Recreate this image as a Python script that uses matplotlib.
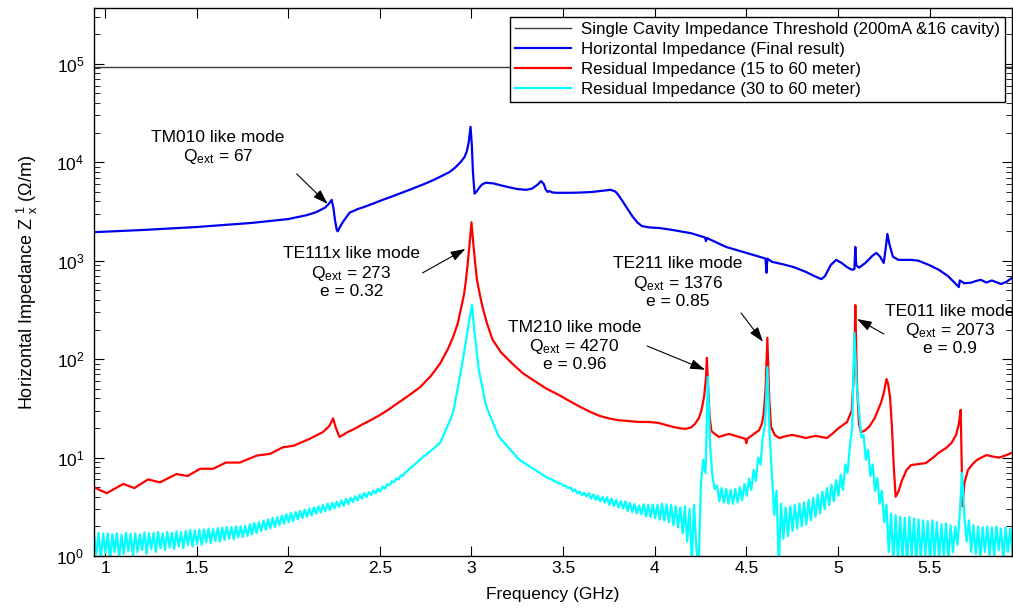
import numpy as np
import matplotlib
matplotlib.use('Agg')
import matplotlib.pyplot as plt
from matplotlib.ticker import LogLocator, NullFormatter

plt.rcParams['font.family'] = ['Liberation Sans', 'DejaVu Sans']
plt.rcParams['mathtext.fontset'] = 'custom'
plt.rcParams['mathtext.rm'] = 'Liberation Sans'
plt.rcParams['mathtext.it'] = 'Liberation Sans:italic'

# ---- data ----
threshold = 9.4e4

blue_f = [0.94, 1.2, 1.5, 1.8, 2.0, 2.1, 2.15, 2.2, 2.22, 2.237, 2.247, 2.255, 2.265, 2.27,
          2.285, 2.30, 2.335, 2.38, 2.42, 2.47, 2.515, 2.56, 2.60, 2.65, 2.70, 2.75, 2.80,
          2.84, 2.88, 2.91, 2.94, 2.962, 2.975, 2.985, 2.995, 3.002, 3.008, 3.017, 3.03,
          3.045, 3.06, 3.08, 3.12, 3.15, 3.2, 3.25, 3.30, 3.33, 3.36, 3.38, 3.395, 3.405,
          3.415, 3.425, 3.44, 3.46, 3.55, 3.62, 3.66, 3.72, 3.76, 3.785, 3.80, 3.82, 3.85,
          3.88, 3.905, 3.93, 3.97, 4.025, 4.1, 4.2, 4.275, 4.28, 4.285, 4.39, 4.57, 4.605,
          4.61, 4.615, 4.64, 4.70, 4.76, 4.825, 4.87, 4.91, 4.93, 4.96, 4.99, 5.02, 5.05,
          5.075, 5.09, 5.095, 5.10, 5.115, 5.15, 5.19, 5.21, 5.23, 5.25, 5.26, 5.27, 5.28,
          5.30, 5.33, 5.40, 5.44, 5.50, 5.55, 5.60, 5.66, 5.665, 5.69, 5.73, 5.75, 5.78,
          5.81, 5.84, 5.87, 5.89, 5.92, 5.95]
blue_z = [1950, 2050, 2200, 2420, 2650, 2900, 3100, 3450, 3750, 4150, 3400, 2600, 2050, 1990,
          2250, 2500, 3080, 3350, 3550, 3850, 4150, 4450, 4750, 5150, 5600, 6100, 6700,
          7300, 7950, 8800, 10000, 11300, 13000, 16000, 22900, 15000, 8000, 4800, 5100,
          5600, 6000, 6200, 6100, 5900, 5600, 5350, 5250, 5400, 5900, 6450, 6000, 5300,
          5000, 5100, 4950, 4900, 4900, 4950, 5000, 5150, 5250, 5050, 4700, 4150, 3400,
          2800, 2450, 2250, 2180, 2150, 2050, 1900, 1720, 1580, 1700, 1380, 1100, 1050,
          755, 1050, 975, 920, 860, 770, 700, 650, 700, 900, 1020, 950, 860,
          810, 820, 1380, 900, 850, 950, 1130, 1200, 1100, 950, 1300, 1870, 1500,
          1100, 1020, 1020, 1000, 900, 810, 700, 540, 630, 590, 600, 620, 640,
          600, 630, 600, 580, 610, 670]

red_f = [0.94, 0.98, 1.01, 1.05, 1.10, 1.16, 1.235, 1.30, 1.39, 1.45, 1.52, 1.59, 1.66, 1.735,
         1.83, 1.90, 1.97, 2.03, 2.12, 2.19, 2.225, 2.245, 2.26, 2.28, 2.325, 2.36, 2.40, 2.45,
         2.50, 2.55, 2.61, 2.66, 2.72, 2.78, 2.83, 2.87, 2.90, 2.925, 2.945, 2.96, 2.97, 2.98,
         2.99, 3.0, 3.01, 3.02, 3.03, 3.045, 3.06, 3.085, 3.115, 3.16, 3.22, 3.28, 3.35, 3.41,
         3.48, 3.53, 3.59, 3.65, 3.70, 3.75, 3.80, 3.86, 3.915, 3.97, 4.02, 4.06, 4.10, 4.14,
         4.17, 4.20, 4.22, 4.24, 4.255, 4.27, 4.28, 4.285, 4.29, 4.30, 4.31, 4.35, 4.405, 4.46,
         4.495, 4.50, 4.505, 4.57, 4.585, 4.595, 4.605, 4.61, 4.615, 4.62, 4.625, 4.635, 4.655,
         4.68, 4.715, 4.75, 4.79, 4.825, 4.855, 4.88, 4.91, 4.94, 4.97, 5.005, 5.05, 5.075,
         5.085, 5.09, 5.095, 5.10, 5.105, 5.115, 5.125, 5.15, 5.17, 5.2, 5.235, 5.25, 5.265,
         5.275, 5.285, 5.295, 5.305, 5.315, 5.33, 5.35, 5.375, 5.40, 5.44, 5.48, 5.52, 5.55,
         5.59, 5.62, 5.645, 5.66, 5.67, 5.675, 5.68, 5.69, 5.71, 5.74, 5.76, 5.81, 5.85, 5.88,
         5.92, 5.95]
red_z = [5.0, 4.6, 4.35, 4.8, 5.4, 4.9, 6.0, 5.6, 6.8, 6.5, 7.7, 7.7, 8.9, 8.9,
         10.5, 10.9, 12.7, 13.2, 15.6, 18.2, 21, 25, 20, 16.2, 18.2, 19.5, 21.5, 24,
         27, 31, 37, 43, 52, 68, 91, 125, 168, 230, 340, 460, 640, 950,
         1500, 2460, 1500, 950, 640, 460, 340, 230, 158, 118, 91, 72, 59, 50,
         43, 38, 33, 29, 26.5, 25, 24, 23.5, 23, 23, 22.5, 21.5, 20.5, 19.8,
         19.6, 20.3, 22, 25, 30, 42, 65, 103, 60, 26, 18.5, 16.2, 17.4, 16.2,
         15.5, 14, 15.5, 19, 22, 28, 50, 90, 165, 80, 40, 20.5, 17,
         15.8, 16.5, 17, 16.4, 15.8, 16.3, 16.6, 16.2, 15.8, 17.5, 20, 23, 30,
         60, 120, 355, 120, 50, 22, 18, 19, 20.5, 25, 36, 45, 63,
         55, 40, 20, 8, 4.0, 4.5, 5.9, 7.5, 8.4, 8.6, 8.8, 10, 11.2,
         12.5, 14.1, 17, 22, 30.5, 10, 3.2, 5.5, 7.5, 8.8, 9.5, 10.6, 10.2, 10.0,
         10.6, 11.2]

# cyan trace sampled every 0.0125 GHz from 0.94 GHz, one row per 0.1 GHz
cyan_z = [
    1.65, 1.05, 1.72, 0.92, 1.68, 1.08, 1.70, 0.88,
    1.66, 1.10, 1.70, 0.95, 1.64, 1.05, 1.72, 1.12,
    1.68, 1.00, 1.70, 1.10, 1.66, 1.15, 1.74, 1.05,
    1.70, 1.18, 1.72, 1.10, 1.75, 1.20, 1.70, 1.15,
    1.76, 1.22, 1.72, 1.18, 1.78, 1.25, 1.75, 1.20,
    1.80, 1.30, 1.84, 1.25, 1.82, 1.32, 1.86, 1.30,
    1.86, 1.38, 1.90, 1.35, 1.88, 1.42, 1.92, 1.40,
    1.94, 1.46, 1.98, 1.50, 1.96, 1.48, 2.00, 1.55,
    2.00, 1.56, 2.03, 1.60, 2.10, 1.66, 2.17, 1.71,
    2.21, 1.79, 2.29, 1.85, 2.36, 1.91, 2.44, 1.97,
    2.49, 2.06, 2.58, 2.13, 2.66, 2.20, 2.75, 2.26,
    2.79, 2.36, 2.88, 2.43, 2.96, 2.50, 3.05, 2.58,
    3.11, 2.69, 3.20, 2.77, 3.30, 2.85, 3.40, 2.93,
    3.46, 3.05, 3.56, 3.15, 3.67, 3.24, 3.80, 3.37,
    3.90, 3.54, 4.05, 3.67, 4.20, 3.82, 4.37, 3.96,
    4.46, 4.18, 4.62, 4.34, 4.81, 4.52, 5.08, 4.84,
    5.36, 5.25, 5.74, 5.61, 6.14, 6.01, 6.61, 6.56,
    7.1, 7.4, 7.8, 8.1, 8.5, 8.9, 9.4, 9.8,
    10.3, 10.7, 11.2, 11.7, 12.2, 12.8, 13.4, 14.0,
    15.6, 17.7, 20, 22.6, 25.6, 30, 40, 53,
    72, 98, 133, 186, 263, 355, 200, 124,
    78, 60, 46, 35, 30, 26.3, 23.2, 20.4,
    17.9, 16.0, 15.1, 14.2, 13.4, 12.6, 11.9, 11.2,
    10.5, 9.9, 9.4, 9.1, 8.8, 8.5, 8.2, 7.9,
    7.66, 7.4, 7.14, 6.9, 6.67, 6.44, 6.25, 6.1,
    5.99, 5.72, 5.70, 5.44, 5.42, 5.16, 5.15, 4.90,
    5.00, 4.55, 4.75, 4.33, 4.52, 4.15, 4.39, 4.03,
    4.36, 3.82, 4.23, 3.71, 4.10, 3.60, 3.98, 3.49,
    3.95, 3.31, 3.84, 3.21, 3.72, 3.12, 3.61, 3.03,
    3.59, 2.87, 3.48, 2.79, 3.38, 2.70, 3.27, 2.65,
    3.36, 2.53, 3.31, 2.48, 3.33, 2.42, 3.30, 2.35,
    3.40, 2.30, 3.35, 2.20, 3.30, 2.05, 3.20, 1.95,
    3.10, 1.70, 3.20, 1.40, 3.00, 0.90, 3.30, 1.20,
    0.80, 5.5, 9.5, 7.0, 66, 13, 6.5, 4.8,
    5.2, 3.6, 4.9, 3.5, 4.8, 3.4, 4.7, 3.4,
    4.8, 3.5, 5.0, 3.7, 5.4, 4.1, 6.1, 4.7,
    7.5, 5.8, 10, 8.5, 16, 22, 83, 17,
    6.5, 2.6, 4.6, 0.8, 3.4, 1.5, 3.1, 1.6,
    3.2, 1.8, 3.3, 1.9, 3.4, 2.0, 3.5, 2.1,
    3.7, 2.3, 3.9, 2.5, 4.2, 2.7, 4.5, 3.0,
    4.9, 3.3, 5.3, 3.6, 5.9, 4.1, 6.7, 4.7,
    8.5, 7.0, 13, 20, 185, 55, 30, 16,
    17, 9.5, 12, 6.5, 8.5, 4.6, 6.2, 3.4,
    4.6, 2.2, 3.3, 1.1, 2.7, 0.85, 2.6, 0.9,
    2.5, 0.95, 2.45, 0.8, 2.5, 1.0, 2.4, 0.85,
    2.35, 0.9, 2.3, 1.0, 2.25, 0.85, 2.3, 1.0,
    2.2, 0.95, 2.1, 1.0, 2.15, 0.9, 2.05, 1.1,
    2.0, 1.3, 2.7, 7.0, 2.6, 1.4, 2.3, 1.1,
    2.05, 1.05, 2.0, 0.9, 1.95, 1.1, 2.0, 1.0,
    1.95, 1.0, 2.0, 1.15, 1.9, 0.9, 1.95, 1.1,
    1.9, 1.05,
]
cyan_f = 0.94 + 0.0125 * np.arange(len(cyan_z))

labels = ['Single Cavity Impedance Threshold (200mA &16 cavity)',
          'Horizontal Impedance (Final result)',
          'Residual Impedance (15 to 60 meter)',
          'Residual Impedance (30 to 60 meter)']

# (text, text pos, arrow tail, arrow head) in data coords
notes = [
    ('TM010 like mode\nQ$_{\\mathrm{ext}}$ = 67', (1.616, 14000), (2.046, 7620), (2.215, 3780)),
    ('TE111x like mode\nQ$_{\\mathrm{ext}}$ = 273\ne = 0.32', (2.346, 752), (2.733, 752), (2.967, 1318)),
    ('TE211 like mode\nQ$_{\\mathrm{ext}}$ = 1376\ne = 0.85', (4.128, 595), (4.471, 295), (4.591, 150)),
    ('TM210 like mode\nQ$_{\\mathrm{ext}}$ = 4270\ne = 0.96', (3.561, 136), (3.959, 136), (4.275, 78)),
    ('TE011 like mode\nQ$_{\\mathrm{ext}}$ = 2073\ne = 0.9', (5.61, 198), (5.251, 180), (5.104, 256)),
]

fig = plt.figure(figsize=(10.13, 6.10), dpi=100, facecolor='white')
ax = fig.add_axes([0.0928, 0.0885, 0.9062, 0.8985])

ax.plot([0.94, 5.95], [threshold, threshold], color='#3a3a3a', lw=1.0, label=labels[0])
ax.plot(blue_f, blue_z, color='#0000ee', lw=1.6, label=labels[1])
ax.plot(red_f, red_z, color='#ff0000', lw=1.6, label=labels[2])
ax.plot(cyan_f, cyan_z, color='#00ffff', lw=1.6, label=labels[3])

ax.set_yscale('log')
ax.set_xlim(0.94, 5.95)
ax.set_ylim(1, 3.7e5)
ax.set_xticks([1, 1.5, 2, 2.5, 3, 3.5, 4, 4.5, 5, 5.5])
ax.set_xticklabels(['1', '1.5', '2', '2.5', '3', '3.5', '4', '4.5', '5', '5.5'])
ax.yaxis.set_major_locator(LogLocator(base=10, numticks=10))
ax.yaxis.set_minor_locator(LogLocator(base=10, subs=np.arange(2, 10), numticks=20))
ax.yaxis.set_minor_formatter(NullFormatter())
ax.tick_params(which='both', direction='in', top=True, right=True, labelsize=12.5)
ax.tick_params(axis='y', which='major', pad=7)
ax.tick_params(which='major', length=7, width=0.8)
ax.tick_params(which='minor', length=4, width=0.6)
for s in ax.spines.values():
    s.set_linewidth(1.0)

ax.set_xlabel('Frequency (GHz)', fontsize=12.5, labelpad=8)
ax.set_ylabel('Horizontal Impedance Z $_{\\mathrm{x}}^{\\mathrm{1}}$ (\u03a9/m)', fontsize=13, labelpad=12)

for txt, tpos, tail, head in notes:
    ax.text(tpos[0], tpos[1], txt, ha='center', va='center', fontsize=12.5,
            multialignment='center', linespacing=1.15)
    ax.annotate('', xy=head, xytext=tail,
                arrowprops=dict(arrowstyle='-|>,head_length=0.9,head_width=0.3',
                                color='k', lw=0.8, shrinkA=0, shrinkB=0))

leg = ax.legend(loc='upper right', bbox_to_anchor=(0.9924, 0.9836), borderaxespad=0,
                fontsize=12.2, fancybox=False, framealpha=1, edgecolor='k',
                handlelength=3.3, labelspacing=0.3, borderpad=0.3, handletextpad=0.6)
leg.get_frame().set_linewidth(1.0)

fig.savefig('out.png', dpi=100)
